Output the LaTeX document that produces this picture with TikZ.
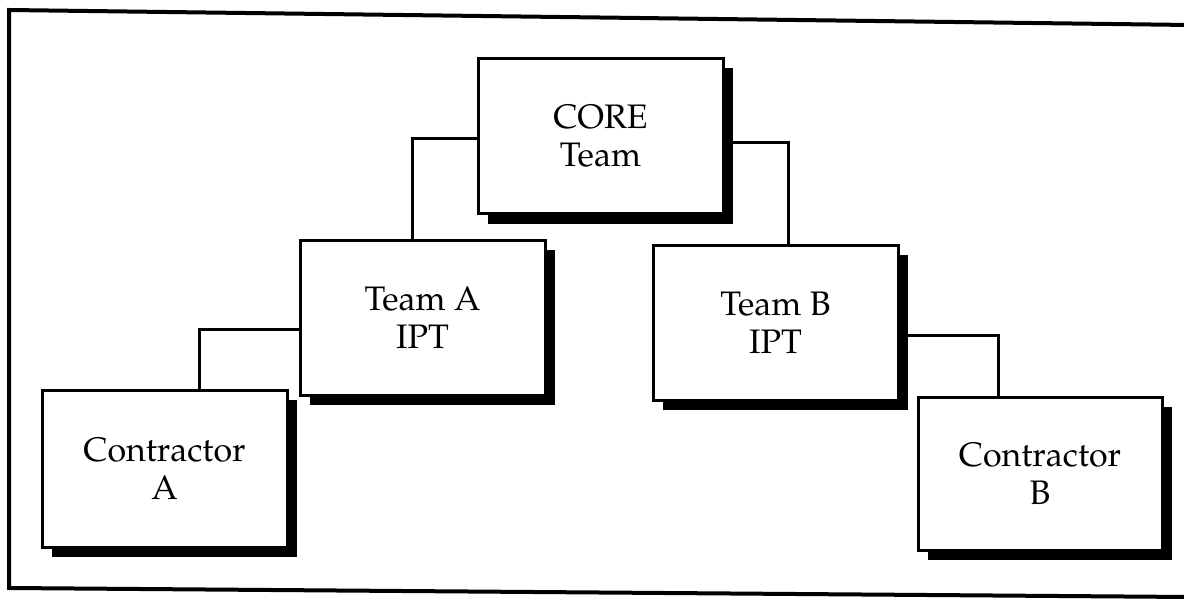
\documentclass[tikz,border=0pt]{standalone}
\usepackage[T1]{fontenc}
\usepackage{mathpazo}
\usetikzlibrary{shadows}
\tikzset{
  unit/.style={x=1pt,y=-1pt},
  teambox/.style={draw=black, line width=3pt, fill=white, rectangle,
    minimum width=245pt, minimum height=155pt, align=center,
    font=\fontsize{34}{38}\selectfont,
    general shadow={fill=black, draw=none, shadow xshift=10pt, shadow yshift=-10pt}},
  link/.style={line width=3pt, line cap=rect},
  frame/.style={line width=4pt, line cap=rect}
}
\begin{document}
\begin{tikzpicture}[unit]
\useasboundingbox (0,0) rectangle (1184,599);

% outer frame (open on the right)
\draw[frame] (1190,25) -- (9,10) -- (9,588) -- (1190,597);

% boxes
\node[teambox] (core) at (600.5,136) {CORE\\Team};
\node[teambox] (teamA) at (422.5,317.5) {Team A\\IPT};
\node[teambox] (teamB) at (775.5,322.5) {Team B\\IPT};
\node[teambox, minimum height=157pt] (conA) at (164.5,468.5) {Contractor\\A};
\node[teambox, minimum width=244pt, minimum height=153pt] (conB) at (1040,473.5) {Contractor\\B};

% elbow points of the connectors
\coordinate (kA) at (412,139);
\coordinate (kB) at (788,143);
\coordinate (kC) at (199,329);
\coordinate (kD) at (998,335);

\draw[link] (core.west |- kA) -| (teamA.north -| kA);
\draw[link] (core.east |- kB) -| (teamB.north -| kB);
\draw[link] (teamA.west |- kC) -| (conA.north -| kC);
\draw[link] (teamB.east |- kD) -| (conB.north -| kD);
\end{tikzpicture}
\end{document}
